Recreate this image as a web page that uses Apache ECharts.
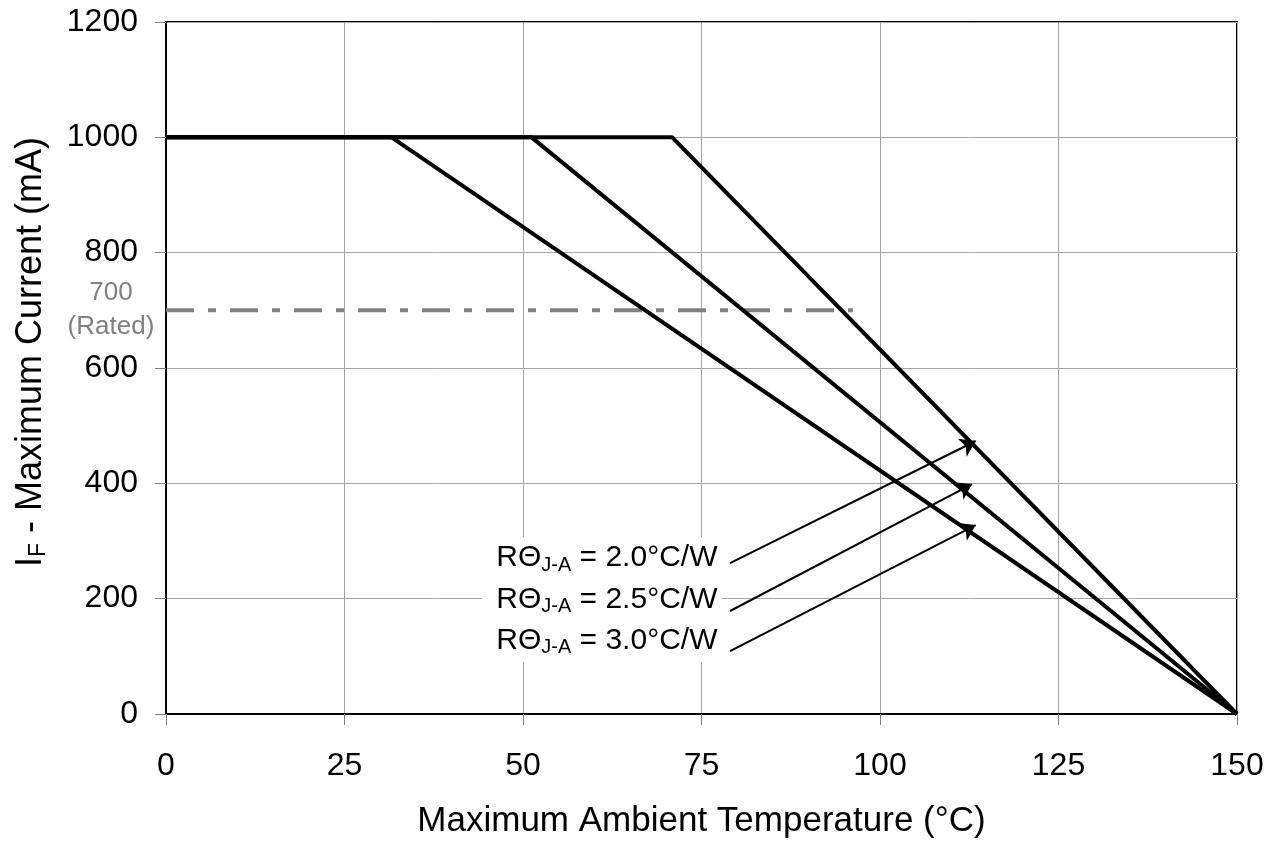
<!DOCTYPE html>
<html>
<head>
<meta charset="utf-8">
<script src="https://cdn.jsdelivr.net/npm/echarts@6/dist/echarts.min.js"></script>
<style>
html,body{margin:0;padding:0;background:#fff;}
#chart{width:1276px;height:844px;}
</style>
</head>
<body>
<div id="chart"></div>
<script>
// ---- data ----
var xTicks = [0, 25, 50, 75, 100, 125, 150];
var yTicks = [0, 200, 400, 600, 800, 1000, 1200];
var curve30 = [[0, 1000], [31.6, 1000], [150, 0]];
var curve25 = [[0, 1000], [51.2, 1000], [150, 0]];
var curve20 = [[0, 1000], [70.9, 1000], [150, 0]];
var ratedLine = [[0, 700], [96.2, 700]];
var ratedValue = 700;
var labelNames = ['2.0', '2.5', '3.0'];
var labelAnchors = [[77.8, 270.5], [77.8, 198.9], [77.8, 126.9]];
var arrowStarts = [[79.0, 261.8], [79.0, 178.6], [79.0, 109.2]];
var arrowEnds = [[113.4, 473.4], [112.9, 398.8], [113.4, 327.7]];

var font = 'Liberation Sans, Arial, sans-serif';
var chart = echarts.init(document.getElementById('chart'));

function curveSeries(name, data) {
  return {
    name: name, type: 'line', data: data, symbol: 'none', z: 5,
    lineStyle: {color: '#000', width: 4}, itemStyle: {color: '#000'}, clip: false
  };
}

var arrowData = arrowStarts.map(function (s, i) {
  return {coords: [s, arrowEnds[i]]};
});

var labelData = labelAnchors.map(function (s, i) {
  return {value: s, name: labelNames[i]};
});

var option = {
  animation: false,
  backgroundColor: '#fff',
  grid: {left: 166, right: 39, top: 22, bottom: 130, show: true,
         borderColor: '#000', borderWidth: 2, backgroundColor: 'transparent'},
  xAxis: {
    type: 'value', min: xTicks[0], max: xTicks[xTicks.length - 1], interval: xTicks[1] - xTicks[0],
    name: 'Maximum Ambient Temperature (°C)', nameLocation: 'middle', nameGap: 90,
    nameTextStyle: {fontFamily: font, fontSize: 35, color: '#000'},
    axisLine: {show: true, onZero: false, lineStyle: {color: '#000', width: 2}},
    axisTick: {show: true, length: 11, lineStyle: {color: '#808080', width: 1}},
    axisLabel: {fontFamily: font, fontSize: 32, color: '#000', margin: 36,
                formatter: function (v) { return String(v); }},
    splitLine: {show: true, lineStyle: {color: '#a6a6a6', width: 1}}
  },
  yAxis: {
    type: 'value', min: yTicks[0], max: yTicks[yTicks.length - 1], interval: yTicks[1] - yTicks[0],
    name: '{m|I}{s|F}{m| - Maximum Current (mA)}', nameLocation: 'middle', nameGap: 116,
    nameTextStyle: {
      fontFamily: font, fontSize: 36, color: '#000', padding: [0, 0, 0, 32],
      rich: {
        m: {fontFamily: font, fontSize: 36, color: '#000'},
        s: {fontFamily: font, fontSize: 23, color: '#000', padding: [15, 0, 0, 0]}
      }
    },
    axisLine: {show: true, lineStyle: {color: '#000', width: 2}},
    axisTick: {show: true, length: 11, lineStyle: {color: '#808080', width: 1}},
    axisLabel: {fontFamily: font, fontSize: 32, color: '#000', margin: 28,
                formatter: function (v) { return String(v); }},
    splitLine: {show: true, lineStyle: {color: '#a6a6a6', width: 1}}
  },
  series: [
    {
      name: 'rated', type: 'line', data: ratedLine, symbol: 'none', z: 4,
      lineStyle: {color: '#808080', width: 4, type: [28, 14, 8, 14]}
    },
    {
      name: 'ratedLabel', type: 'scatter', data: [[0, ratedValue]], symbolSize: 0.1, z: 6,
      silent: true, clip: false, itemStyle: {opacity: 1},
      label: {
        show: true, position: [-55, 0], align: 'center', verticalAlign: 'middle', opacity: 1,
        formatter: function (p) { return p.value[1] + '\n(Rated)'; },
        fontFamily: font, fontSize: 26, color: '#808080', lineHeight: 34
      }
    },
    curveSeries('RΘJ-A = 3.0°C/W', curve30),
    curveSeries('RΘJ-A = 2.5°C/W', curve25),
    curveSeries('RΘJ-A = 2.0°C/W', curve20),
    {
      name: 'arrows', type: 'lines', coordinateSystem: 'cartesian2d', z: 6,
      symbol: ['none', 'arrow'], symbolSize: 15,
      lineStyle: {color: '#000', width: 2, opacity: 1, curveness: 0},
      data: arrowData
    },
    {
      name: 'labels', type: 'scatter', data: labelData, symbolSize: 0.1, z: 7,
      silent: true, clip: false, itemStyle: {opacity: 1},
      label: {
        show: true, position: 'left', distance: 0, color: '#000', opacity: 1,
        fontFamily: font, fontSize: 30,
        formatter: function (p) { return '{m|RΘ}{s|J-A}{m| = ' + p.name + '°C/W}'; },
        backgroundColor: '#fff', padding: [4, 4, 4, 14],
        rich: {
          m: {fontFamily: font, fontSize: 30, color: '#000'},
          s: {fontFamily: font, fontSize: 20, color: '#000', padding: [14, 0, 0, 0]}
        }
      }
    }
  ]
};
chart.setOption(option);
</script>
</body>
</html>
